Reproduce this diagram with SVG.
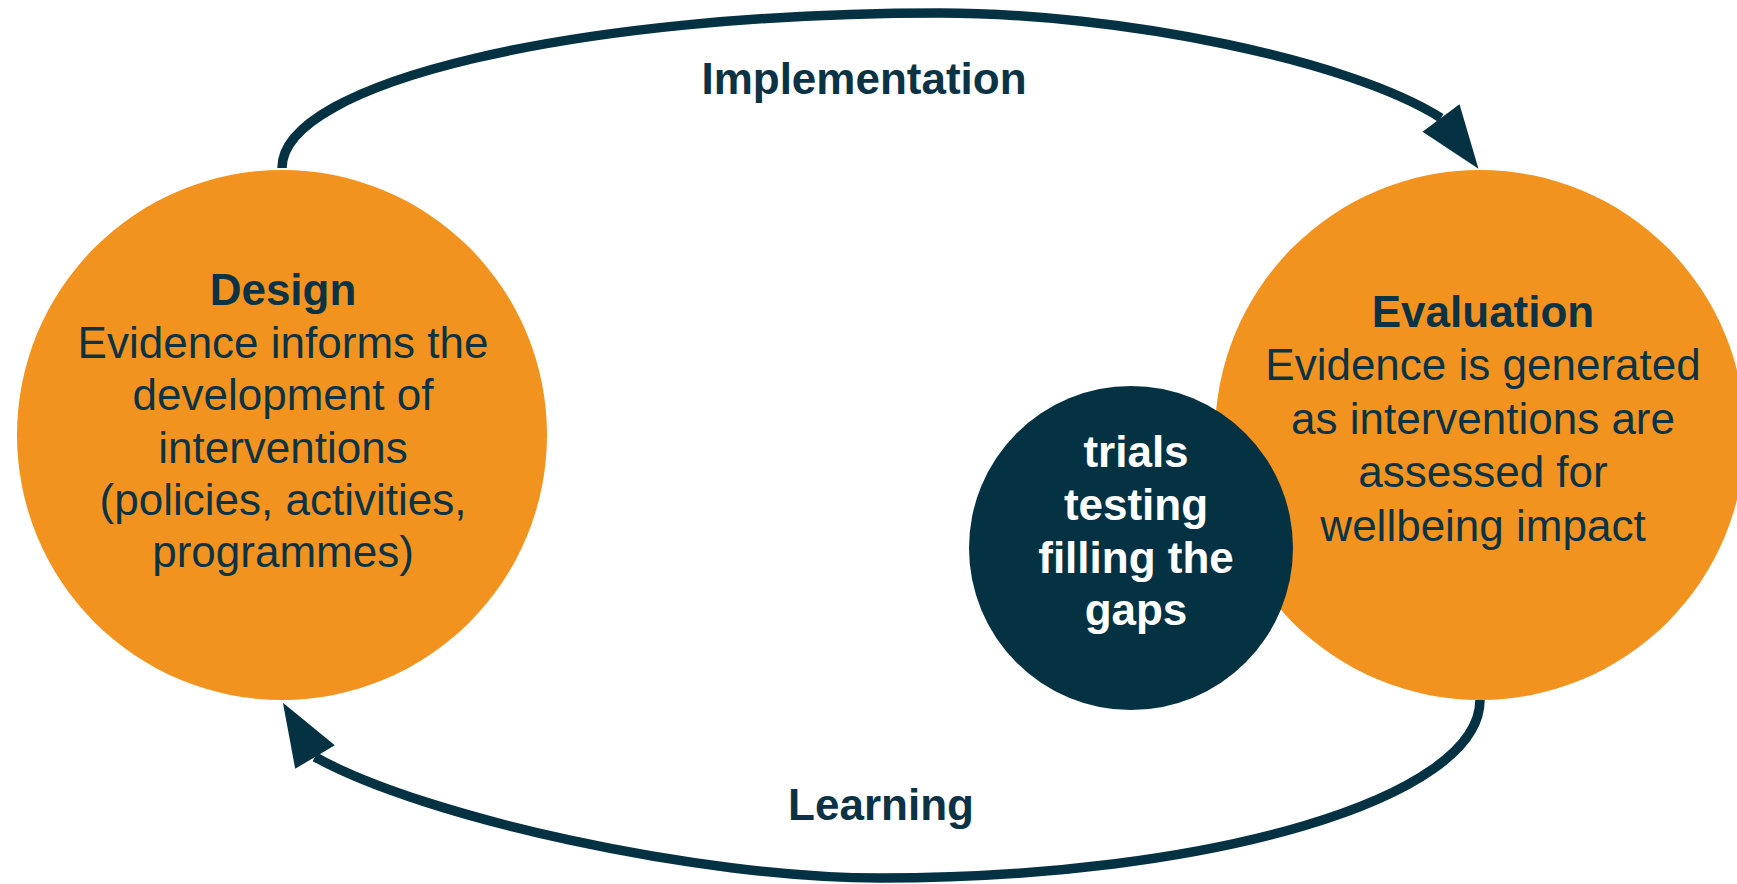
<svg xmlns="http://www.w3.org/2000/svg" width="1737" height="884" viewBox="0 0 1737 884">
  <style>
    .stage { fill: #F3931F; }
    .core { fill: #053242; }
    .head { font-family: "Liberation Sans", Arial, sans-serif; font-size: 44px; font-weight: bold; fill: #0B3345; text-anchor: middle; }
    .body { font-family: "Liberation Sans", Arial, sans-serif; font-size: 44px; fill: #0B3345; text-anchor: middle; }
    .core-text { font-family: "Liberation Sans", Arial, sans-serif; font-size: 44px; font-weight: bold; fill: #FFFFFF; text-anchor: middle; }
    .flow { fill: none; stroke: #053242; stroke-width: 9.5; stroke-linecap: butt; }
    .tip { fill: #053242; }
  </style>
  <defs>
    <marker id="tip-down" markerUnits="userSpaceOnUse" orient="53.5" refX="0" refY="0" markerWidth="80" markerHeight="60" overflow="visible">
      <path class="tip" d="M0,-23 L63,0 L0,23 Z"/>
    </marker>
    <marker id="tip-up" markerUnits="userSpaceOnUse" orient="-120.6" refX="0" refY="0" markerWidth="80" markerHeight="60" overflow="visible">
      <path class="tip" d="M0,-23 L63,0 L0,23 Z"/>
    </marker>
  </defs>

  <rect x="0" y="0" width="1737" height="884" fill="#FFFFFF"/>

  <g id="design">
    <circle class="stage" cx="282" cy="435" r="265"/>
    <text class="head" x="283" y="305">Design</text>
    <text class="body" x="283" y="358">Evidence informs the</text>
    <text class="body" x="283" y="410">development of</text>
    <text class="body" x="283" y="463">interventions</text>
    <text class="body" x="283" y="515">(policies, activities,</text>
    <text class="body" x="283" y="567">programmes)</text>
  </g>

  <g id="evaluation">
    <circle class="stage" cx="1480" cy="435" r="265"/>
    <text class="head" x="1483" y="327">Evaluation</text>
    <text class="body" x="1483" y="380">Evidence is generated</text>
    <text class="body" x="1483" y="434">as interventions are</text>
    <text class="body" x="1483" y="487">assessed for</text>
    <text class="body" x="1483" y="541">wellbeing impact</text>
  </g>

  <g id="trials">
    <circle class="core" cx="1131" cy="548" r="162"/>
    <text class="core-text" x="1136" y="467">trials</text>
    <text class="core-text" x="1136" y="520">testing</text>
    <text class="core-text" x="1136" y="573">filling the</text>
    <text class="core-text" x="1136" y="625">gaps</text>
  </g>

  <g id="connectors">
    <path id="implementation" class="flow" marker-end="url(#tip-down)"
          d="M282,168 C282,82 577,13 940,13 C1120,13 1350,60 1441,118"/>
    <text class="head" x="864" y="94">Implementation</text>
    <path id="learning" class="flow" marker-end="url(#tip-up)"
          d="M1480,700 C1480,798 1211,878 880,878 C700,878 425,818 315,757"/>
    <text class="head" x="881" y="820">Learning</text>
  </g>
</svg>
